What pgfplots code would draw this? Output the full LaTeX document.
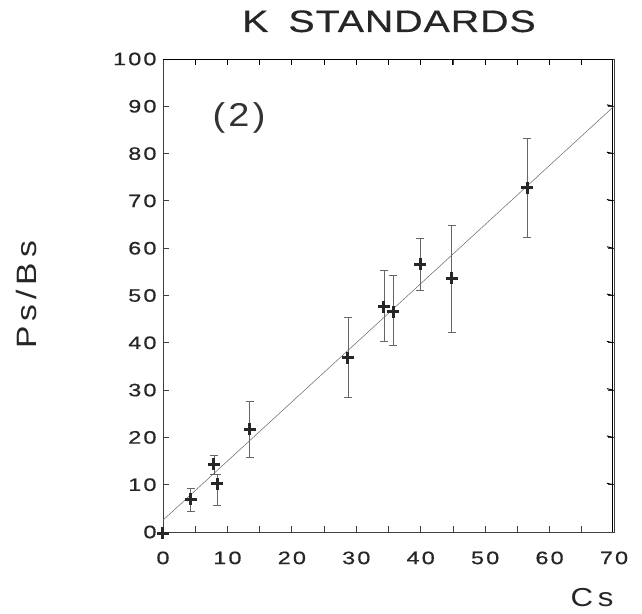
\documentclass[border=0pt]{standalone}
\usepackage{fontspec}
\setmainfont{Liberation Sans}
\newfontfamily\tickfont[FakeStretch=1.3,LetterSpace=12,FakeBold=0.6]{Liberation Sans}
\newfontfamily\titlefont[FakeStretch=1.27,LetterSpace=3,FakeBold=0.5]{Liberation Sans}
\newfontfamily\labfont[FakeStretch=1.2,LetterSpace=18]{Liberation Sans}
\newfontfamily\numfont[FakeStretch=1.15,LetterSpace=10]{Liberation Sans}
\usepackage{pgfplots}
\pgfplotsset{compat=1.18}
\begin{document}
\begin{tikzpicture}
\begin{axis}[
  scale only axis, width=451pt, height=473pt,
  xmin=0, xmax=70, ymin=0, ymax=100,
  xtick={0,10,...,70}, minor xtick={5,15,...,65},
  ytick={0,10,...,100},
  tick align=inside, major tick length=6pt, minor tick length=6pt,
  axis line style={black!75, line width=0.8pt},
  tick style={black!75, line width=0.8pt},
  /pgf/number format/assume math mode=true,
  ticklabel style={font=\tickfont\fontsize{18}{20}\selectfont, text=black!85},
  yticklabel style={xshift=-3pt},
  xticklabel style={yshift=-16pt},
  clip=false,
]
\draw[black, line width=1pt] (axis cs:0,99.79) -- (axis cs:69.84,99.79) -- (axis cs:69.84,0);
\pgfplotsinvokeforeach{5,10,...,65}{\draw[black, line width=1pt] (axis cs:#1,99.79) -- ++(0,-6pt);}
\pgfplotsinvokeforeach{10,20,...,90}{\draw[black, line width=1pt] (axis cs:69.84,#1) -- ++(-6pt,0);}
\addplot[gray!80!black, line width=0.5pt] coordinates {(0,2.5) (70,90)};
\addplot[only marks, mark=+, mark size=6pt, black!85, mark options={line width=3pt},
  error bars/.cd, y dir=both, y explicit,
  error bar style={black!60, line width=0.5pt},
  error mark=-,
  error mark options={rotate=90, mark size=4pt, line width=0.5pt, black!60}]
  coordinates {
  (4.3,6.9)   += (0,2.3)  -= (0,2.45)
  (7.9,14.3)  += (0,2.0)  -= (0,2.1)
  (8.4,10.2)  += (0,2.0)  -= (0,4.55)
  (13.45,21.7) += (0,6.0) -= (0,6.0)
  (28.7,36.8) += (0,8.5)  -= (0,8.4)
  (34.3,47.6) += (0,7.7)  -= (0,7.2)
  (35.7,46.6) += (0,7.7)  -= (0,7.2)
  (39.9,56.6) += (0,5.6)  -= (0,5.4)
  (44.8,53.6) += (0,11.3) -= (0,11.3)
  (56.5,72.8) += (0,10.5) -= (0,10.5)
  };
\addplot[only marks, mark=+, mark size=6pt, black!85, mark options={line width=3pt}]
  coordinates {(0,-0.3)};
\end{axis}
\node[font=\titlefont\fontsize{31}{34}\selectfont, anchor=base, text=black!85] at (226pt,500pt) {K\hspace{20pt}STANDARDS};
\node[font=\labfont\fontsize{26}{28}\selectfont, anchor=base, text=black!85] at (429pt,-74pt) {Cs};
\node[font=\labfont\fontsize{28}{30}\selectfont, rotate=90, anchor=base, text=black!85] at (-126pt,237pt) {Ps/Bs};
\node[font=\numfont\fontsize{33}{35}\selectfont, text=black!80] at (76pt,414pt) {(2)};
\pgfresetboundingbox
\path[use as bounding box] (-163pt,-81pt) rectangle (479pt,532pt);
\end{tikzpicture}
\end{document}
